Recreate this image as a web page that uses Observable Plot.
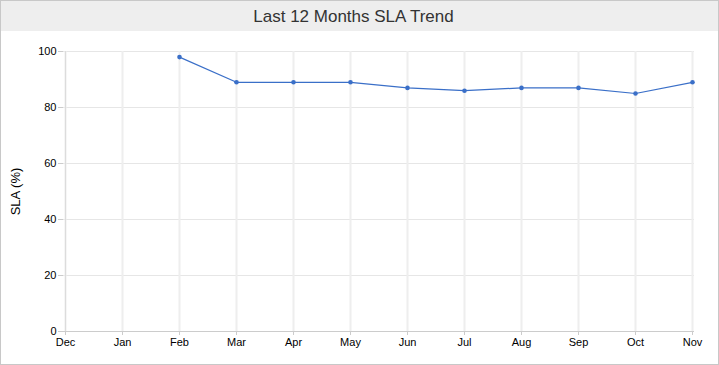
<!DOCTYPE html>
<html><head>
<meta charset="utf-8">
<script src="https://cdn.jsdelivr.net/npm/d3@7"></script>
<script src="https://cdn.jsdelivr.net/npm/@observablehq/plot@0.6"></script>
<style>
body{margin:0;font-family:"Liberation Sans",Arial,sans-serif;background:#fff}
#wrap{width:717px;height:363px;border:1px solid #c8c8c8;background:#fff;overflow:hidden}
#hdr{height:30px;background:#eeeeee;text-align:center;font-size:17px;line-height:31px;color:#333;padding-right:12px}
</style></head><body>
<div id="wrap"><div id="hdr">Last 12 Months SLA Trend</div><div id="chart"></div></div>
<script>
const months = ["Dec","Jan","Feb","Mar","Apr","May","Jun","Jul","Aug","Sep","Oct","Nov"];
const sla = [null,null,98,89,89,89,87,86,87,87,85,89];
const yTicks = [0,20,40,60,80,100];

const data = months.map((m,i)=>({month:m, value:sla[i]})).filter(d=>d.value!=null);

const chart = Plot.plot({
  width: 717,
  height: 332,
  marginLeft: 62,
  marginRight: 24,
  marginTop: 20,
  marginBottom: 32,
  style: {fontFamily:"'Liberation Sans', Arial, sans-serif", fontSize:"11px", color:"#000", background:"#fff"},
  x: {type:"point", domain: months, padding: 0},
  y: {domain:[0,100]},
  marks: [
    Plot.ruleY(yTicks, {stroke:"#e6e6e6", strokeWidth:1}),
    Plot.ruleX(months, {stroke:"#eeeeee", strokeWidth:2}),
    Plot.ruleX([months[0]], {stroke:"#dcdcdc", strokeWidth:1}),
    Plot.ruleY([0], {stroke:"#cccccc", strokeWidth:1}),
    Plot.axisY({ticks: yTicks, tickSize:5, tickPadding:2, stroke:"#cccccc", label:null, fontSize:11}),
    Plot.axisY({ticks: [], tickSize:0, label:"SLA (%)", labelAnchor:"center", labelArrow:"none", labelOffset:53, fontSize:13}),
    Plot.axisX({tickSize:4, tickPadding:3, stroke:"#cccccc", label:null, fontSize:11}),
    Plot.line(data, {x:"month", y:"value", stroke:"#3a6fc8", strokeWidth:1.2}),
    Plot.dot(data, {x:"month", y:"value", fill:"#3a6fc8", r:2.3})
  ]
});
document.getElementById("chart").appendChild(chart);
</script>
</body></html>
